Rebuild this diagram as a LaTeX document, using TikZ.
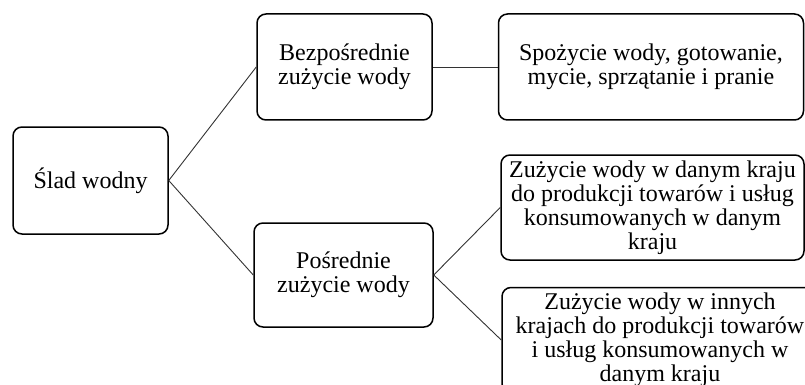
\documentclass[tikz,border=0pt]{standalone}
\usepackage{fontspec}
\setmainfont{Liberation Serif}

\tikzset{
  box/.style={draw=black, line width=1.5pt, rounded corners=9pt, align=center,
              inner sep=0pt, font=\fontsize{24}{24}\selectfont},
  link/.style={draw=black!80, line width=0.9pt}
}

\begin{document}
\begin{tikzpicture}[x=1pt, y=-1pt]
   \useasboundingbox (0,0) rectangle (805,385);
   \clip (0,0) rectangle (805,385);
   \begin{scope}[every node/.style={box}]
    \node[minimum width=155, minimum height=107] (slad) at (90.5,180.5) {Ślad wodny};
    \node[minimum width=175, minimum height=106] (bezp) at (344.5,67) {Bezpośrednie\\zużycie wody};
    \node[minimum width=305, minimum height=106] (spoz) at (651,67) {Spożycie wody, gotowanie,\\mycie, sprzątanie i pranie};
    \node[minimum width=179, minimum height=104] (posr) at (343.5,275) {Pośrednie\\zużycie wody};
    \node[minimum width=303, minimum height=105] (kraj) at (652.5,207.5) {Zużycie wody w danym kraju\\do produkcji towarów i usług\\konsumowanych w danym\\kraju};
    \node[minimum width=316, minimum height=105] (inne) at (660,340) {Zużycie wody w innych\\krajach do produkcji towarów\\i usług konsumowanych w\\danym kraju};
   \end{scope}
   \begin{scope}[every edge/.style={link}]
    \draw (slad.east) edge (bezp.west);
    \draw (slad.east) edge (posr.west);
    \draw (bezp.east) edge (spoz.west);
    \draw (posr.east) edge (kraj.west);
    \draw (posr.east) edge (inne.west);
   \end{scope}
\end{tikzpicture}
\end{document}
